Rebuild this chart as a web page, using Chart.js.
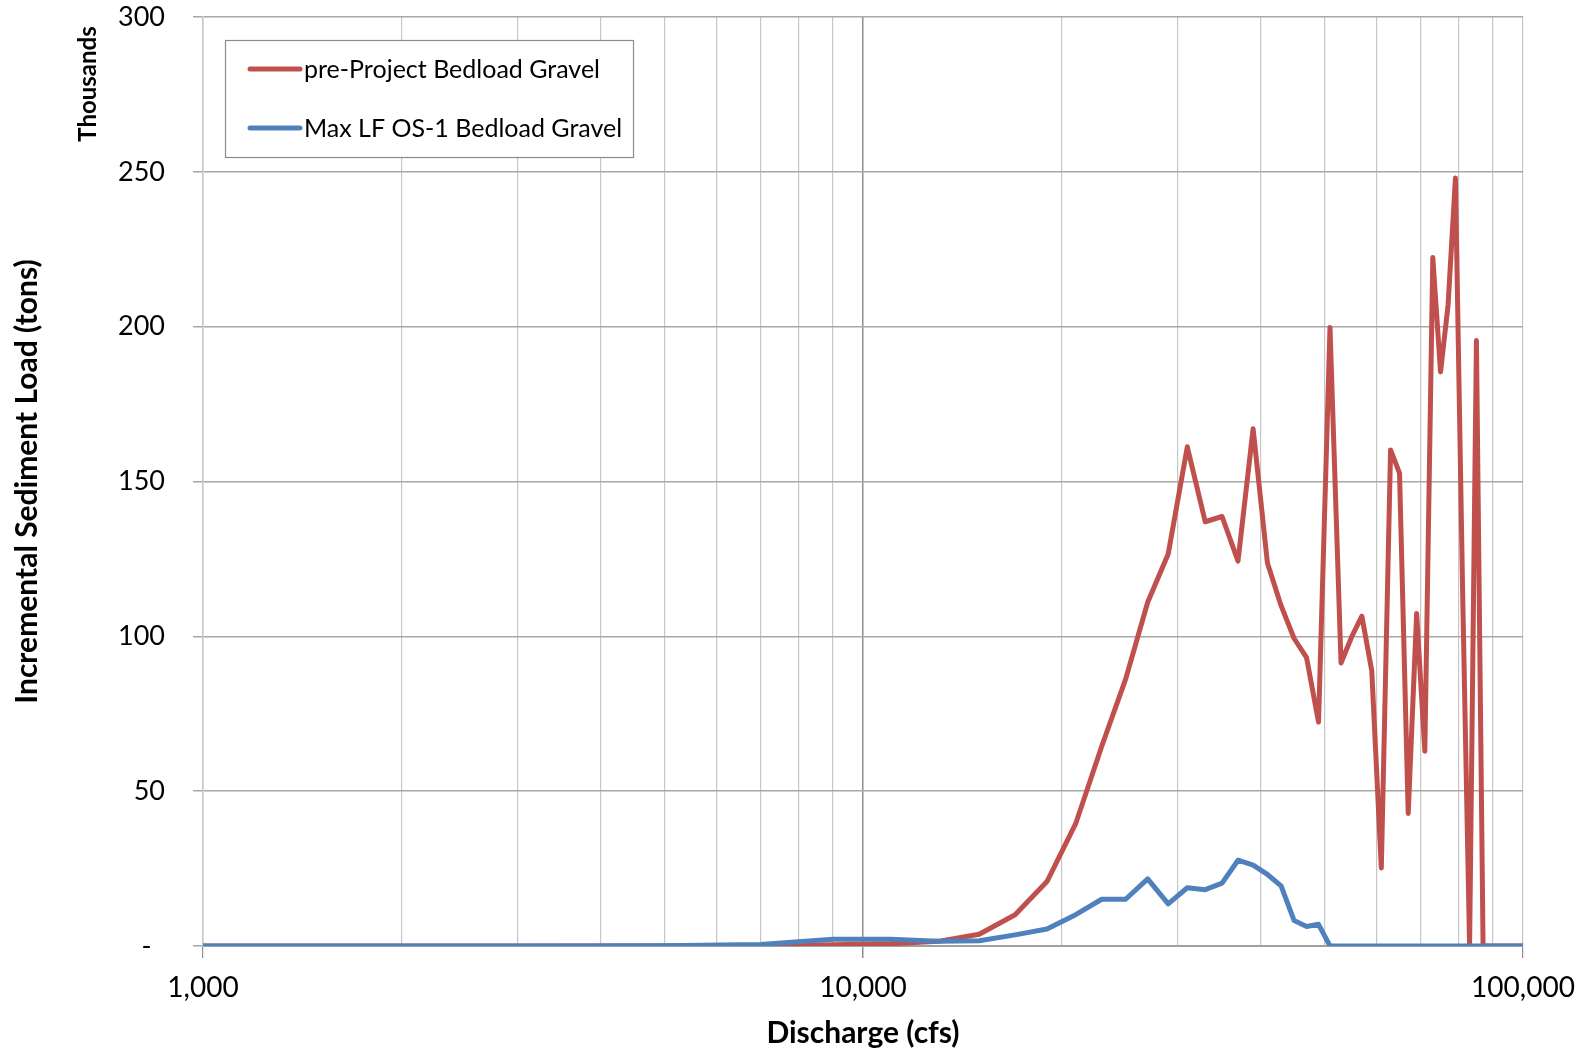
<!DOCTYPE html>
<html>
<head>
<meta charset="utf-8">
<title>Incremental Sediment Load</title>
<script src="https://cdn.jsdelivr.net/npm/chart.js@4.4.1/dist/chart.umd.min.js"></script>
<style>
  html, body { margin: 0; padding: 0; background: #fff; }
  #wrap { width: 1585px; height: 1053px; position: relative; }
</style>
</head>
<body>
<div id="wrap"><canvas id="chart"></canvas></div>
<script>
    "use strict";

    // discharge (cfs) and incremental load (thousands of tons)
    const discharge = [1000, 3000, 5000, 7000, 9000, 11000, 13000, 15000, 17000, 19000,
        21000, 23000, 25000, 27000, 29000, 31000, 33000, 35000, 37000, 39000,
        41000, 43000, 45000, 47000, 49000, 51000, 53000, 55000, 57000, 59000,
        61000, 63000, 65000, 67000, 69000, 71000, 73000, 75000, 77000, 79000,
        81000, 83000, 85000, 87000, 89000, 91000, 93000, 95000, 97000, 99000, 101000];
    const preProject = [0, 0, 0, 0.1, 0.4, 0.7, 1.5, 3.8, 10.1, 20.8,
        39.5, 64.5, 86.2, 111, 126.6, 161.2, 137, 138.7, 124.3, 167,
        123.7, 109.9, 99.3, 93.1, 72.3, 199.7, 91.4, 99.8, 106.5, 88.9,
        25.2, 160.2, 152.7, 42.8, 107.4, 62.9, 222.3, 185.4, 207, 248,
        115, 0, 195.5, 0, 0, 0, 0, 0, 0, 0, 0];
    const maxLfOs1 = [0, 0, 0.1, 0.5, 2.2, 2.2, 1.5, 1.7, 3.6, 5.5,
        10.1, 15.1, 15.1, 21.7, 13.6, 18.8, 18.2, 20.3, 27.7, 26.1,
        23.1, 19.4, 8.2, 6.3, 7.0, 0, 0, 0, 0, 0,
        0, 0, 0, 0, 0, 0, 0, 0, 0, 0,
        0, 0, 0, 0, 0, 0, 0, 0, 0, 0, 0];

    const seriesNames = ["pre-Project Bedload Gravel", "Max LF OS-1 Bedload Gravel"];
    const seriesColors = ["#C0504D", "#4F81BD"];
    const yTicks = [0, 50, 100, 150, 200, 250, 300];
    const xLabels = [1000, 10000, 100000];

    const FONT = "Lato";
    const textColor = "#000";

    const toPoints = (ys) => discharge.map((x, i) => ({ x, y: ys[i] }));

    // excel-style legend box in the upper left of the plot
    const legendBox = {
        id: "legendBox",
        afterDatasetsDraw(chart) {
            const ctx = chart.ctx;
            ctx.save();
            ctx.fillStyle = "#fff";
            ctx.strokeStyle = "#8c8c8c";
            ctx.lineWidth = 1.2;
            ctx.fillRect(225, 40, 408, 117);
            ctx.strokeRect(225.5, 40.5, 408, 117);
            ctx.font = `25px ${FONT}`;
            ctx.textBaseline = "middle";
            chart.data.datasets.forEach((ds, i) => {
                const y = 69 + i * 59;
                ctx.strokeStyle = ds.borderColor;
                ctx.lineWidth = 5;
                ctx.lineCap = "round";
                ctx.beginPath(); ctx.moveTo(250, y); ctx.lineTo(300, y); ctx.stroke();
                ctx.fillStyle = textColor;
                ctx.fillText(ds.label, 304, y + 1);
            });
            // units note on the value axis
            ctx.translate(88, 84);
            ctx.rotate(-Math.PI / 2);
            ctx.font = `bold 24px ${FONT}`;
            ctx.textAlign = "center";
            ctx.textBaseline = "middle";
            ctx.fillText("Thousands", 0, 0);
            ctx.restore();
        },
    };

    new Chart(document.getElementById("chart"), {
        type: "line",
        data: {
            datasets: [
                { label: seriesNames[0], data: toPoints(preProject), borderColor: seriesColors[0], backgroundColor: seriesColors[0], order: 1 },
                { label: seriesNames[1], data: toPoints(maxLfOs1), borderColor: seriesColors[1], backgroundColor: seriesColors[1], order: 0 },
            ],
        },
        options: {
            responsive: true,
            maintainAspectRatio: false,
            animation: false,
            layout: { padding: { top: 17, right: 62, left: 0, bottom: 0 } },
            elements: { point: { radius: 0 }, line: { borderWidth: 5, tension: 0, borderJoinStyle: "round" } },
            plugins: { legend: { display: false }, tooltip: { enabled: false } },
            scales: {
                x: {
                    type: "logarithmic",
                    min: 1000,
                    max: 100000,
                    afterBuildTicks: (s) => {
                        const vals = [];
                        for (let d = 1000; d < 100000; d *= 10) for (let m = 1; m < 10; m++) vals.push(d * m);
                        vals.push(100000);
                        s.ticks = vals.map((v) => ({ value: v }));
                    },
                    afterFit: (s) => { s.height = 107; s.paddingLeft = 0; s.paddingRight = 0; },
                    ticks: {
                        autoSkip: false,
                        maxRotation: 0,
                        padding: 13,
                        color: textColor,
                        font: { family: FONT, size: 28 },
                        callback: (v) => (xLabels.includes(v) ? v.toLocaleString("en-US") : ""),
                    },
                    grid: {
                        color: (c) => (c.tick && c.tick.value === 10000 ? "#8f8f8f" : "#c6c6c6"),
                        lineWidth: (c) => (c.tick && c.tick.value === 10000 ? 1.5 : 1.2),
                        tickColor: (c) => (c.tick && xLabels.includes(c.tick.value) ? "#8f8f8f" : "rgba(0,0,0,0)"),
                        tickLength: 12,
                    },
                    border: { color: "#a0a0a0", width: 2 },
                    title: {
                        display: true,
                        text: "Discharge (cfs)",
                        color: textColor,
                        font: { family: FONT, size: 30, weight: "bold" },
                        padding: { top: 0, bottom: 2 },
                    },
                },
                y: {
                    min: 0,
                    max: 300,
                    afterBuildTicks: (s) => { s.ticks = yTicks.map((v) => ({ value: v })); },
                    afterFit: (s) => { s.width = 203; s.paddingTop = 0; s.paddingBottom = 0; },
                    ticks: {
                        padding: 28,
                        color: textColor,
                        font: { family: FONT, size: 27 },
                        callback: (v) => (v === 0 ? "-\u2002" : String(v)),
                    },
                    grid: { color: "#a8a8a8", lineWidth: 1.5, tickLength: 10 },
                    border: { color: "#c6c6c6", width: 1.5 },
                    title: {
                        display: true,
                        text: "Incremental Sediment Load (tons)",
                        color: textColor,
                        font: { family: FONT, size: 30, weight: "bold" },
                        padding: { top: 9, bottom: 0 },
                    },
                },
            },
        },
        plugins: [legendBox],
    });
</script>
</body>
</html>
